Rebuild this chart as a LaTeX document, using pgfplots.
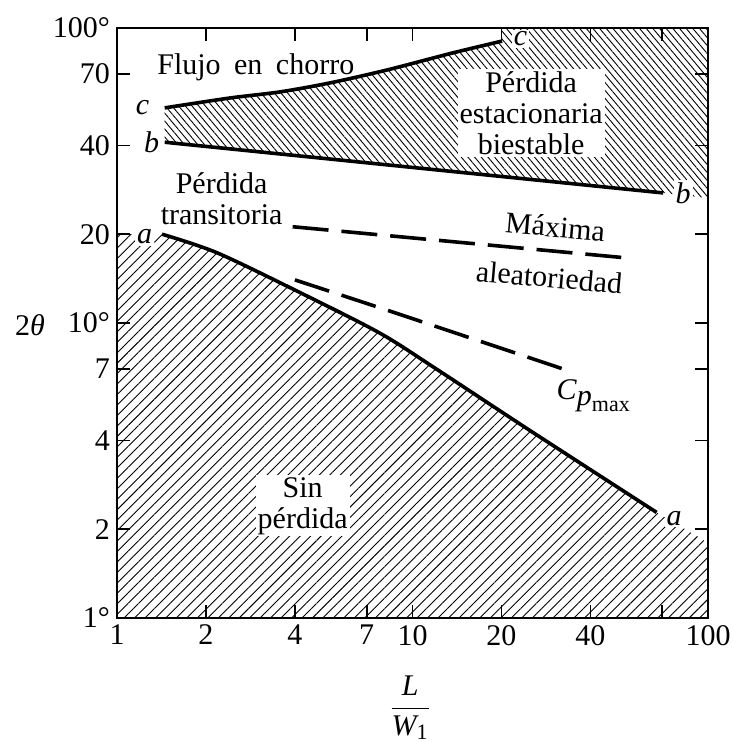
\documentclass[border=0pt]{standalone}
\usepackage{fontspec}
\setmainfont{Liberation Serif}
\usepackage{pgfplots}
\pgfplotsset{compat=1.18}
\usetikzlibrary{patterns.meta}

\tikzset{
  lab/.style={font=\fontsize{15}{15.5}\selectfont, inner sep=1pt, align=center},
  letter/.style={font=\fontsize{15}{15.5}\selectfont\itshape, inner sep=1pt},
  curve/.style={black, line width=1.8pt},
  dashcurve/.style={black, line width=1.8pt, dash pattern=on 18pt off 6.5pt},
}

\begin{document}
\begin{tikzpicture}
\begin{axis}[
  scale only axis, width=295.5pt, height=295pt,
  xmode=log, ymode=log,
  xmin=1, xmax=100, ymin=1, ymax=100,
  xtick={1,2,4,7,10,20,40,70,100},
  xticklabels={1,2,4,7,10,20,40,,100},
  ytick={1,2,4,7,10,20,40,70,100},
  yticklabels={1°,2,4,7,10°,20,40,70,100°},
  tick align=inside, major tick length=6.5pt,
  axis line style={line width=1.1pt},
  every tick/.style={black, line width=0.8pt},
  tick label style={font=\fontsize{15}{17}\selectfont},
  /pgf/number format/assume math mode=true,
  xlabel={$\displaystyle\frac{\mbox{\itshape L}}{\mbox{\itshape W}_{\mbox{\fontsize{11}{12}\selectfont 1}}}$},
  xlabel style={at={(axis description cs:0.496,0)}, anchor=center, yshift=-45pt, font=\fontsize{15}{17}\selectfont},
  ylabel={2\textit{θ}},
  ylabel style={at={(axis description cs:0,0.497)}, rotate=-90, anchor=center, xshift=-43.5pt, font=\fontsize{15}{17}\selectfont},
]

% zona sin perdida (bajo la curva a)
\addplot[draw=none, pattern={Lines[angle=45, distance=3.7pt, line width=0.45pt]}, pattern color=black]
coordinates {(1,1) (1,20) (1.42,20) (1.8,18.6) (2.18,17.3) (3,15.0) (4.15,12.7) (5.5,11.0) (7.74,9.25) (9.04,8.55) (12,7.0) (24.8,4.34) (67,2.28) (100,1.8) (100,1)} -- cycle;

% zona biestable (entre b y c)
\addplot[draw=none, pattern={Lines[angle=-50, distance=2.55pt, line width=0.45pt]}, pattern color=black]
coordinates {(1.45,41) (1.45,53.6) (2.41,57.9) (3.55,60.7) (5.24,65.1) (8.17,72.0) (13.6,82.2) (20.1,90.3) (20.1,100) (100,100) (100,26.5) (70.5,27.6)} -- cycle;

% curva a
\addplot[curve, smooth] coordinates {(1.42,20) (2.18,17.3) (4.15,12.7) (7.74,9.25) (12,7.0) (24.8,4.34) (67,2.28)};
% curva b
\addplot[curve] coordinates {(1.45,41) (70.5,27.6)};
% curva c
\addplot[curve, smooth] coordinates {(1.45,53.6) (2.41,57.9) (3.55,60.7) (5.24,65.1) (8.17,72.0) (13.6,82.2) (20.1,90.3)};

% maxima aleatoriedad
\addplot[dashcurve] coordinates {(3.93,21.2) (53.7,16.6)};
% Cp max
\addplot[dashcurve] coordinates {(4.0,14.0) (8.17,11.07) (33.1,6.93)};

\node[lab] at (axis cs:2.95,73.8) {Flujo\hspace{0.45em}en\hspace{0.45em}chorro};
\node[lab, fill=white] at (axis cs:25.2,51.5) {Pérdida\\estacionaria\\biestable};
\node[lab] at (axis cs:2.26,26.3) {Pérdida\\transitoria};
\node[lab, rotate=-5] at (axis cs:30.4,21.2) {Máxima};
\node[lab, rotate=-5] at (axis cs:29.0,14.3) {aleatoriedad};
\node[lab] at (axis cs:40.9,5.66) {\textit{C}\raisebox{-0.45ex}{\textit{p}}\raisebox{-0.9ex}{\fontsize{11}{12}\selectfont max}};
\node[lab, fill=white] at (axis cs:4.25,2.40) {Sin\\pérdida};

\node[letter] at (axis cs:1.22,53.6) {c};
\node[letter] at (axis cs:1.31,41) {b};
\node[letter, fill=white] at (axis cs:1.24,19.6) {a};
\node[letter, fill=white] at (axis cs:23.2,91.8) {c};
\node[letter, fill=white] at (axis cs:82.4,27.6) {b};
\node[letter, fill=white] at (axis cs:76.8,2.18) {a};
\end{axis}
\pgfresetboundingbox
\path[use as bounding box] ([xshift=-58.5pt,yshift=-62pt]current axis.south west) rectangle ([xshift=12pt,yshift=14pt]current axis.north east);
\end{tikzpicture}
\end{document}
